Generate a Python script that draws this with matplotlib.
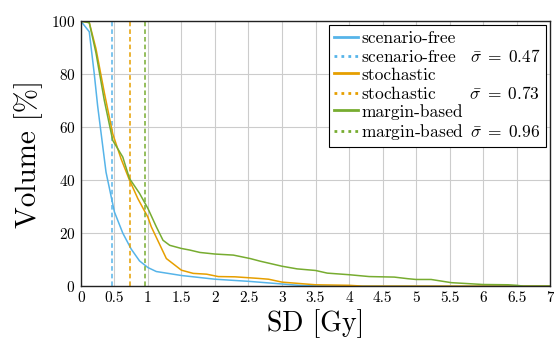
import matplotlib
matplotlib.use('Agg')
import matplotlib.pyplot as plt
import numpy as np

sd_free = [0, 0.125, 0.2, 0.25, 0.3, 0.375, 0.5, 0.625, 0.75, 0.875, 1.0, 1.125, 1.5,
           2.0, 2.5, 2.75, 3.0, 3.25, 3.5, 4.0, 7.0]
vol_free = [100, 96, 80, 68, 58, 43, 28, 20, 14, 9.5, 7, 5.5, 4,
            2.6, 1.8, 1.3, 0.8, 0.3, 0.1, 0, 0]

sd_stoch = [0, 0.125, 0.225, 0.35, 0.475, 0.6, 0.725, 0.85, 1.0, 1.05, 1.275, 1.5, 1.675,
            1.875, 2.05, 2.3, 2.65, 2.8, 3.0, 3.25, 3.5, 4.0, 4.2, 7.0]
vol_stoch = [100, 99.5, 89.6, 73, 57.5, 48, 40, 33, 26, 22.4, 10.4, 6, 4.8,
             4.5, 3.6, 3.5, 2.9, 2.6, 1.5, 1.0, 0.5, 0.3, 0, 0]

sd_margin = [0, 0.125, 0.225, 0.35, 0.475, 0.625, 0.725, 0.875, 1.0, 1.125, 1.225, 1.325,
             1.5, 1.625, 1.775, 2.0, 2.275, 2.525, 2.675, 3.0, 3.225, 3.5, 3.675, 4.0,
             4.3, 4.675, 4.875, 5.0, 5.225, 5.525, 5.8, 6.0, 6.375, 6.5, 6.6, 7.0]
vol_margin = [100, 99.4, 88, 70, 55, 48.7, 40.6, 35, 29.3, 22.4, 17.3, 15.4,
              14.2, 13.6, 12.7, 12.1, 11.7, 10.4, 9.4, 7.5, 6.5, 5.9, 4.9, 4.3,
              3.6, 3.4, 2.8, 2.5, 2.5, 1.3, 0.9, 0.6, 0.5, 0.3, 0, 0]

names = ['scenario-free', 'stochastic', 'margin-based']
mean_sd = [0.47, 0.73, 0.96]
colors = ['#56B4E9', '#E69F00', '#77AC30']
xtick_labels = ['0', '0.5', '1', '1.5', '2', '2.5', '3', '3.5', '4', '4.5',
                '5', '5.5', '6', '6.5', '7']

plt.rcParams['font.family'] = 'cmr10'
plt.rcParams['mathtext.fontset'] = 'cm'
plt.rcParams['axes.formatter.use_mathtext'] = True

LEG_FS = 12.5

fig = plt.figure(figsize=(5.54, 3.41), dpi=100)
ax = fig.add_axes([0.146, 0.161, 0.847, 0.777])
r = fig.canvas.get_renderer()


def text_width(s):
    t = fig.text(0, 0, s, fontsize=LEG_FS)
    w = t.get_window_extent(r).width
    t.remove()
    return w


# pad the dotted labels so the sigma column lines up
name_w = [text_width(n) for n in names]
unit = (text_width(r'a$\hspace{10}$a') - text_width('aa')) / 10.0
widest = max(name_w)
gap = 8.0

curves = [(sd_free, vol_free), (sd_stoch, vol_stoch), (sd_margin, vol_margin)]
handles = []
for (x, y), name, w, m, c in zip(curves, names, name_w, mean_sd, colors):
    h1, = ax.plot(x, y, color=c, lw=1.1, label=name)
    pad = (widest - w + gap) / unit
    lab = name + r'$\hspace{%.3f}\bar{\sigma}\;=\;%.2f$' % (pad, m)
    h2 = ax.axvline(m, color=c, lw=1.1, ls=(0, (3, 2)), label=lab)
    handles += [h1, h2]

ax.set_xlim(0, 7)
ax.set_ylim(0, 100)
ax.set_xticks(np.arange(0, 7.01, 0.5))
ax.set_xticklabels(xtick_labels)
ax.set_yticks(np.arange(0, 101, 20))
ax.grid(True, color='#cccccc', lw=0.8)
ax.set_axisbelow(True)
ax.tick_params(length=0, pad=4, labelsize=11)
for s in ax.spines.values():
    s.set_linewidth(1.0)
    s.set_color('#222222')

ax.set_xlabel('SD [Gy]', fontsize=20, labelpad=3)
ax.set_ylabel('Volume [%]', fontsize=21, labelpad=6)

leg = ax.legend(handles=handles, loc='upper right', fontsize=LEG_FS, frameon=True,
                fancybox=False, edgecolor='black', framealpha=1, handlelength=1.4,
                handletextpad=0.15, borderpad=0.3, labelspacing=0.12,
                borderaxespad=0.25)
leg.get_frame().set_linewidth(0.8)
for lh in leg.get_lines()[1::2]:
    lh.set_linestyle((0, (1, 1.5)))
    lh.set_linewidth(2)
for lh in leg.get_lines()[0::2]:
    lh.set_linewidth(2)

fig.savefig('out.png', dpi=100)
